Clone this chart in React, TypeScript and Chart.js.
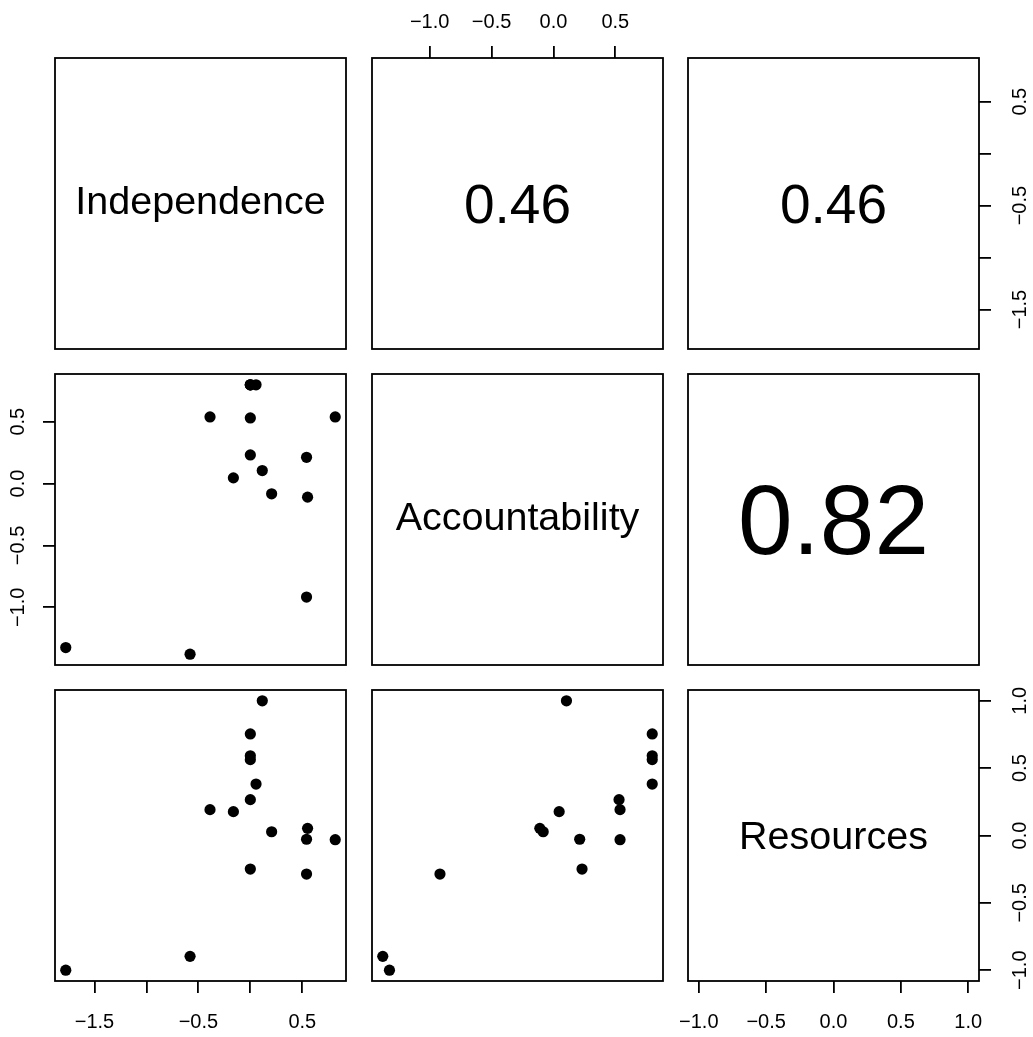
import React, { useEffect, useRef } from 'react';
import { Chart, registerables } from 'chart.js';

Chart.register(...registerables);

// ---------- data ----------
const variableNames = ['Independence', 'Accountability', 'Resources'];

const independence = [0.115, 0.0, 0.0, 0.0, 0.055, 0.0, -0.388, -0.163, 0.551, 0.205, 0.541, 0.817, 0.0, 0.541, -0.58, -1.776];
const accountability = [0.105, 0.798, 0.798, 0.798, 0.798, 0.53, 0.538, 0.046, -0.11, -0.083, 0.212, 0.538, 0.231, -0.917, -1.379, -1.325];
const resources = [1.0, 0.754, 0.592, 0.563, 0.382, 0.266, 0.192, 0.177, 0.053, 0.028, -0.028, -0.031, -0.249, -0.286, -0.897, -1.0];

const variables = [independence, accountability, resources];

// upper-panel correlation labels (row, col)
const correlationLabels = [
  ['', '0.46', '0.46'],
  ['', '', '0.82'],
  ['', '', ''],
];

const tickValues = [
  [-1.5, -1.0, -0.5, 0.0, 0.5],
  [-1.0, -0.5, 0.0, 0.5],
  [-1.0, -0.5, 0.0, 0.5, 1.0],
];
const tickLabels = [
  ['\u22121.5', '', '\u22120.5', '', '0.5'],
  ['\u22121.0', '\u22120.5', '0.0', '0.5'],
  ['\u22121.0', '\u22120.5', '0.0', '0.5', '1.0'],
];

// ---------- layout / style ----------
const COL_LEFT = [55, 372, 688];
const ROW_TOP = [58, 374, 690];
const BOX = 291;
const M = 50;
const LW = 1.8;
const FAMILY = "'Liberation Sans', Arial, Helvetica, sans-serif";
const TICK_FONT = 20;
const DIAG_FONT = 39.5;
const TICK_LEN = 12;

function rangeOf(v: number[]): [number, number] {
  const lo = Math.min(...v);
  const hi = Math.max(...v);
  const pad = (hi - lo) * 0.04;
  return [lo - pad, hi + pad];
}

function axisOptions(varIdx: number, position: string, show: boolean, padding: number) {
  const [min, max] = rangeOf(variables[varIdx]);
  const vertical = position === 'left' || position === 'right';
  return {
    type: 'linear',
    position,
    min,
    max,
    bounds: 'data',
    display: show,
    afterBuildTicks: (s: any) => {
      s.ticks = tickValues[varIdx].map((v) => ({ value: v }));
    },
    afterFit: (s: any) => {
      const size = show ? M : 0;
      if (vertical) s.width = size;
      else s.height = size;
    },
    grid: {
      display: true,
      drawOnChartArea: false,
      drawTicks: true,
      tickLength: TICK_LEN,
      color: '#000',
      lineWidth: LW,
      tickColor: '#000',
      tickWidth: LW,
    },
    border: { display: false },
    ticks: {
      autoSkip: false,
      color: '#000',
      font: { family: FAMILY, size: TICK_FONT },
      padding,
      minRotation: vertical ? 90 : 0,
      maxRotation: vertical ? 90 : 0,
      crossAlign: vertical ? 'center' : 'near',
      callback: (_v: any, i: number) => tickLabels[varIdx][i] ?? '',
    },
  };
}

function drawCentered(ctx: CanvasRenderingContext2D, text: string, cx: number, cy: number, size: number) {
  ctx.font = `${size}px ${FAMILY}`;
  ctx.textAlign = 'center';
  ctx.textBaseline = 'alphabetic';
  ctx.fillStyle = '#000';
  const m = ctx.measureText(text);
  const asc = m.actualBoundingBoxAscent;
  const desc = m.actualBoundingBoxDescent;
  ctx.fillText(text, cx, cy + (asc - desc) / 2);
}

function buildConfig(row: number, col: number): any {
  const n = variableNames.length;
  const xPos = row === 0 ? 'top' : 'bottom';
  const showX = (row === 0 && col % 2 === 1) || (row === n - 1 && col % 2 === 0);
  const yPos = col === 0 ? 'left' : 'right';
  const showY = (col === 0 && row % 2 === 1) || (col === n - 1 && row % 2 === 0);
  const xPad = xPos === 'top' ? 12 : 17;
  const yPad = yPos === 'left' ? 5 : 10;

  const padding = {
    left: showY && yPos === 'left' ? 0 : M,
    right: showY && yPos === 'right' ? 0 : M,
    top: showX && xPos === 'top' ? 0 : M,
    bottom: showX && xPos === 'bottom' ? 0 : M,
  };

  const isScatter = row > col;
  const datasets = isScatter
    ? [
        {
          data: variables[col].map((x, k) => ({ x, y: variables[row][k] })),
          backgroundColor: '#000',
          borderWidth: 0,
          pointRadius: 5.6,
          pointHoverRadius: 5.6,
          pointStyle: 'circle',
          showLine: false,
          clip: false,
        },
      ]
    : [];

  const panelPlugin = {
    id: 'panelDecor',
    afterDraw(chart: any) {
      const { ctx, chartArea: a } = chart;
      ctx.save();
      const cx = (a.left + a.right) / 2;
      const cy = (a.top + a.bottom) / 2;
      if (row === col) {
        drawCentered(ctx, variableNames[row], cx, cy, DIAG_FONT);
      } else if (row < col) {
        const label = correlationLabels[row][col];
        const r = parseFloat(label);
        ctx.font = `100px ${FAMILY}`;
        const w100 = ctx.measureText(label).width;
        const size = (100 * 0.8 * (a.right - a.left) * r) / w100;
        drawCentered(ctx, label, cx, cy, size);
      }
      ctx.lineWidth = LW;
      ctx.strokeStyle = '#000';
      ctx.strokeRect(a.left, a.top, a.right - a.left, a.bottom - a.top);
      ctx.restore();
    },
  };

  return {
    type: 'scatter',
    data: { datasets },
    options: {
      responsive: false,
      animation: false,
      events: [],
      layout: { padding },
      plugins: { legend: { display: false }, tooltip: { enabled: false }, title: { display: false } },
      scales: {
        x: axisOptions(col, xPos, showX, xPad),
        y: axisOptions(row, yPos, showY, yPad),
      },
    },
    plugins: [panelPlugin],
  };
}

function Panel({ row, col }: { row: number; col: number }) {
  const ref = useRef<HTMLCanvasElement>(null);
  useEffect(() => {
    if (!ref.current) return;
    const chart = new Chart(ref.current, buildConfig(row, col));
    return () => chart.destroy();
  }, [row, col]);
  return (
    <canvas
      ref={ref}
      width={BOX + 2 * M}
      height={BOX + 2 * M}
      style={{
        position: 'absolute',
        left: COL_LEFT[col] - M,
        top: ROW_TOP[row] - M,
        width: BOX + 2 * M,
        height: BOX + 2 * M,
      }}
    />
  );
}

export default function App() {
  const cells: React.ReactNode[] = [];
  for (let r = 0; r < 3; r++) {
    for (let c = 0; c < 3; c++) {
      cells.push(<Panel key={`${r}-${c}`} row={r} col={c} />);
    }
  }
  return (
    <div
      style={{
        position: 'absolute',
        left: 0,
        top: 0,
        width: 1033,
        height: 1037,
        overflow: 'hidden',
        background: '#fff',
      }}
    >
      {cells}
    </div>
  );
}
